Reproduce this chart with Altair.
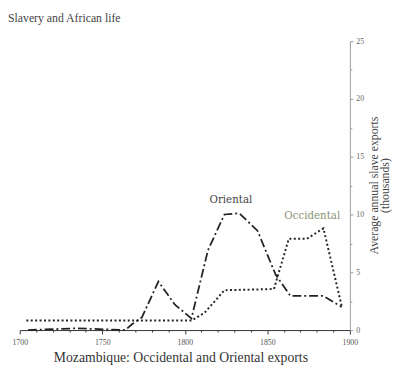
import altair as alt
import pandas as pd

# Oriental exports (thousands per year)
ori_years = [1705, 1734, 1764, 1768, 1774, 1784, 1794, 1804, 1814, 1824, 1833, 1844, 1855, 1864, 1884, 1895]
ori_values = [0.0, 0.15, 0.0, 0.5, 1.1, 4.2, 2.2, 1.0, 6.9, 10.0, 10.1, 8.6, 4.8, 2.95, 2.95, 2.0]

# Occidental exports (thousands per year)
occ_years = [1704, 1804, 1812, 1824, 1854, 1863, 1874, 1884, 1895]
occ_values = [0.82, 0.82, 1.5, 3.45, 3.55, 7.9, 7.9, 8.8, 2.1]

# Series labels
label_text = ["Oriental", "Occidental"]
label_years = [1827.9, 1877.2]
label_values = [11.27, 9.9]
label_colors = ["#444444", "#8a9474"]

x_ticks = list(range(1700, 1901, 10))
y_ticks = [i * 2.5 for i in range(11)]

ori = pd.DataFrame({"year": ori_years, "value": ori_values})
occ = pd.DataFrame({"year": occ_years, "value": occ_values})
labels = pd.DataFrame({"text": label_text, "year": label_years, "value": label_values, "color": label_colors})

x_scale = alt.Scale(domain=[1700, 1900], nice=False, zero=False)
y_scale = alt.Scale(domain=[0, 25], nice=False)

x_axis = alt.Axis(
    values=x_ticks,
    labelExpr="datum.value % 50 === 0 ? datum.label : ''",
    labelOverlap=False,
    labelFlush=False,
    format="d",
    grid=False,
    domainColor="#333333",
    tickColor="#333333",
    tickSize={"condition": {"test": "datum.value % 50 === 0", "value": 4}, "value": 2},
    labelFont="Liberation Serif",
    labelFontSize=8,
    labelColor="#555555",
    labelPadding=5,
    title="Mozambique: Occidental and Oriental exports",
    titleFont="Liberation Serif",
    titleFontSize=14,
    titleFontWeight="normal",
    titleColor="#333333",
    titleX=164,
    titleY=32,
    titleAlign="center",
    titleBaseline="alphabetic",
)

y_axis = alt.Axis(
    orient="right",
    values=y_ticks,
    labelExpr="datum.value % 5 === 0 ? datum.label : ''",
    labelOverlap=False,
    labelFlush=False,
    grid=False,
    domainColor="#9a9a9a",
    tickColor="#9a9a9a",
    tickSize={"condition": {"test": "datum.value % 5 === 0", "value": 3}, "value": 2},
    labelFont="Liberation Serif",
    labelFontSize=8,
    labelColor="#666666",
    labelPadding=3,
    title=["Average annual slave exports", "(thousands)"],
    titleFont="Liberation Serif",
    titleFontSize=12,
    titleFontWeight="normal",
    titleColor="#444444",
    titleAngle=270,
    titleLineHeight=11,
    titleX=24,
    titleY=147,
    titleAlign="center",
    titleBaseline="middle",
)

X = alt.X("year:Q", scale=x_scale, axis=x_axis)
Y = alt.Y("value:Q", scale=y_scale, axis=y_axis)

ori_line = alt.Chart(ori).mark_line(
    color="#222222", strokeWidth=1.8, strokeDash=[9, 3, 2, 3]
).encode(x=X, y=Y)

occ_line = alt.Chart(occ).mark_line(
    color="#222222", strokeWidth=2, strokeDash=[2, 2.5]
).encode(x=X, y=Y)

text = alt.Chart(labels).mark_text(
    font="DejaVu Serif", fontSize=10.5, align="center", baseline="middle"
).encode(
    x=X,
    y=Y,
    text="text:N",
    color=alt.Color("color:N", scale=None),
)

chart = alt.layer(ori_line, occ_line, text).properties(
    width=337,
    height=295,
    background="white",
    autosize=alt.AutoSizeParams(type="none"),
    padding={"left": 12, "top": 30, "right": 43, "bottom": 38},
    title=alt.Title(
        "Slavery and African life",
        anchor="start",
        frame="group",
        dx=-12,
        offset=4,
        font="Liberation Serif",
        fontSize=12,
        fontWeight="normal",
        color="#444444",
        baseline="alphabetic",
    ),
).configure_view(strokeWidth=0, stroke=None).configure_axis(labelOverlap=False)

chart.save("out.html", embed_options={"renderer": "svg", "actions": False})
